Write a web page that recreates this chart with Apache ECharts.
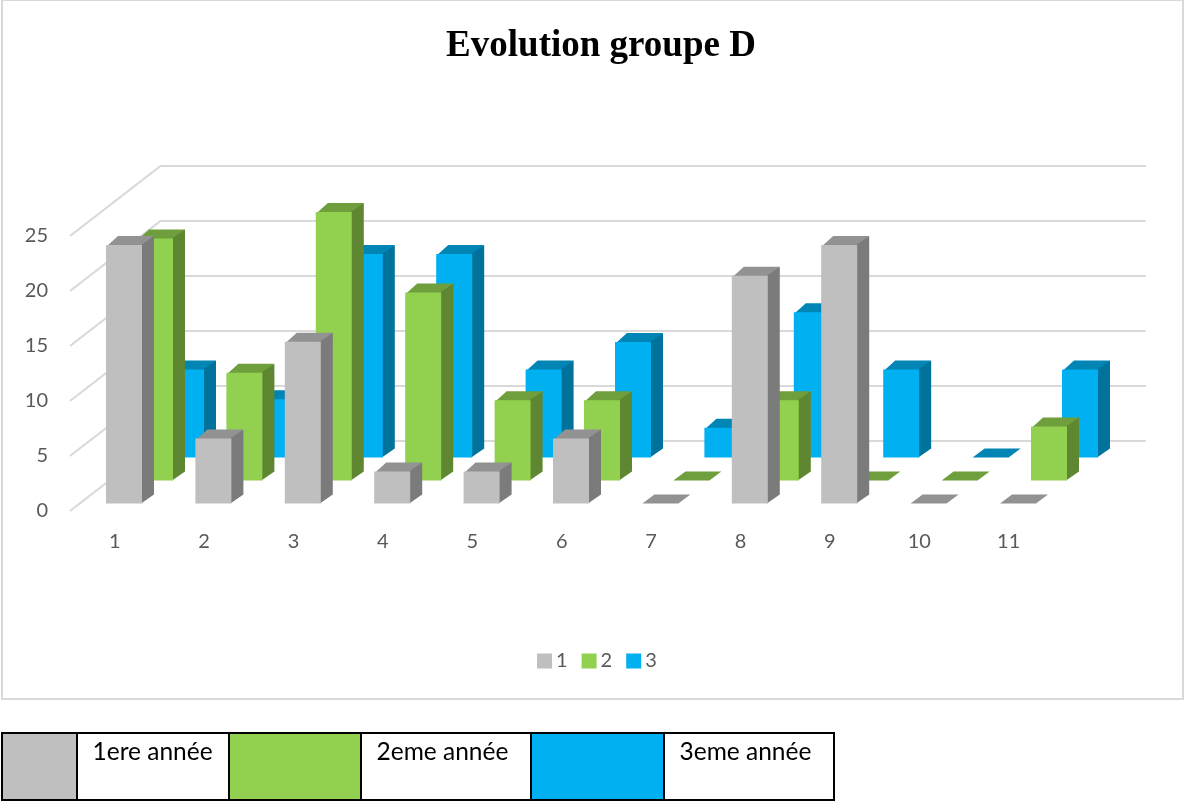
<!DOCTYPE html>
<html>
<head>
<meta charset="utf-8">
<style>html,body{margin:0;padding:0;background:#fff}#c{width:1184px;height:802px}</style>
<script src="https://cdn.jsdelivr.net/npm/echarts@6/dist/echarts.min.js"></script>
</head>
<body>
<div id="c"></div>
<script>
const categories = ['1','2','3','4','5','6','7','8','9','10','11'];
const seriesNames = ['1','2','3'];
const values1 = [23.5,5.9,14.7,2.9,2.9,5.9,0,20.7,23.5,0,0];
const values2 = [22,9.8,24.4,17.1,7.3,7.3,0,7.3,0,0,4.9];
const values3 = [8,5.3,18.5,18.5,8,10.5,2.7,13.2,8,0,8];
const yTicks = [0,5,10,15,20,25];
const tableLabels = ['1ere année','2eme année','3eme année'];

const palette = [
  {front:'#BFBFBF', top:'#929292', side:'#7B7B7B'},
  {front:'#92D050', top:'#6F9E3C', side:'#5F8631'},
  {front:'#00B0F0', top:'#0085B5', side:'#00729C'}
];
const FONT = 'Lato, "Open Sans", sans-serif';
const BAR_W = 36, DX = 12, DY = -9;
const ROW_DX = 31, ROW_DY = -23, START_DX = -8.7, START_DY = -7.5;
const WALL_DX = 90.5, WALL_DY = -70, WALL_EXTRA = 2;

function barSeries(k, data) {
  const c = palette[k];
  return {
    type:'custom', name:seriesNames[k], coordinateSystem:'cartesian2d', clip:false,
    z:5-k, itemStyle:{color:c.front},
    data:data.map((v,i)=>[i,v]),
    encode:{x:0,y:1},
    renderItem(params, api){
      const cat = api.value(0), val = api.value(1);
      const t = api.coord([cat,val]), b = api.coord([cat,0]);
      const x0 = t[0]+START_DX+k*ROW_DX, x1 = x0+BAR_W;
      const off = START_DY+k*ROW_DY;
      const yt = t[1]+off, yb = b[1]+off;
      const solid = yb-yt>0.5;
      const kids = [];
      const lap = solid ? 1 : 0;   // faces overlap slightly so nothing shows through the seams
      kids.push({type:'polygon',shape:{points:[[x0+lap,yt+lap],[x1+lap,yt+lap],[x1+DX,yt+DY],[x0+DX,yt+DY]]},style:{fill:c.top}});
      if (solid) {
        kids.push({type:'polygon',shape:{points:[[x1-lap,yt],[x1+DX,yt+DY],[x1+DX,yb+DY],[x1-lap,yb]]},style:{fill:c.side}});
        kids.push({type:'rect',shape:{x:x0,y:yt,width:BAR_W,height:yb-yt},style:{fill:c.front}});
      }
      return {type:'group',children:kids};
    }
  };
}

const walls = {
  type:'custom', name:'walls', coordinateSystem:'cartesian2d', clip:false, silent:true, z:1,
  data:yTicks.map(v=>[0,v]), encode:{y:1},
  renderItem(params, api){
    const p = api.coord([0,api.value(1)]);
    const x0 = params.coordSys.x, x1 = x0+params.coordSys.width;
    return {type:'polyline',shape:{points:[[x0,p[1]],[x0+WALL_DX,p[1]+WALL_DY],[x1+WALL_DX+WALL_EXTRA,p[1]+WALL_DY]]},
      style:{stroke:'#D9D9D9',lineWidth:2.2,fill:null}};
  }
};

// Table cells under the chart
const swatchX = [[2,77],[229,361],[531,664]];
const labelX = [[77,229],[361,531],[664,834]];
const TY = 733, TH = 67;
const graphic = [
  {type:'rect',shape:{x:2,y:0,width:1181,height:699},style:{fill:'none',stroke:'#D9D9D9',lineWidth:2},z:0}
];
palette.forEach((c,i)=>{
  graphic.push({type:'rect',shape:{x:swatchX[i][0],y:TY,width:swatchX[i][1]-swatchX[i][0],height:TH},style:{fill:c.front,stroke:'#000',lineWidth:2}});
  graphic.push({type:'rect',shape:{x:labelX[i][0],y:TY,width:labelX[i][1]-labelX[i][0],height:TH},style:{fill:'#fff',stroke:'#000',lineWidth:2}});
  graphic.push({type:'text',x:labelX[i][0]+15.5,y:752,
    style:{text:tableLabels[i],font:'24.5px '+FONT,fill:'#000',align:'left',verticalAlign:'middle'}});
});

const chart = echarts.init(document.getElementById('c'));
chart.setOption({
  animation:false,
  backgroundColor:'#fff',
  title:{text:'Evolution groupe D',left:596,top:23,textAlign:'center',
    textStyle:{fontFamily:'"Liberation Serif",serif',fontWeight:'bold',fontSize:37,color:'#000'}},
  legend:{data:seriesNames,left:532,top:646,itemWidth:15,itemHeight:15,itemGap:14,icon:'rect',
    selectedMode:false,textStyle:{fontFamily:FONT,fontSize:20,color:'#595959',padding:[0,0,0,-1]}},
  grid:{left:70,top:236,width:983.4,height:275},
  xAxis:{type:'category',data:categories,axisLine:{show:false},axisTick:{show:false},splitLine:{show:false},
    axisLabel:{color:'#595959',fontFamily:FONT,fontSize:20,margin:21}},
  yAxis:{type:'value',min:0,max:25,interval:5,axisLine:{show:false},axisTick:{show:false},splitLine:{show:false},
    axisLabel:{color:'#595959',fontFamily:FONT,fontSize:20,margin:22}},
  graphic:graphic,
  series:[walls,barSeries(0,values1),barSeries(1,values2),barSeries(2,values3)]
});
</script>
</body>
</html>
